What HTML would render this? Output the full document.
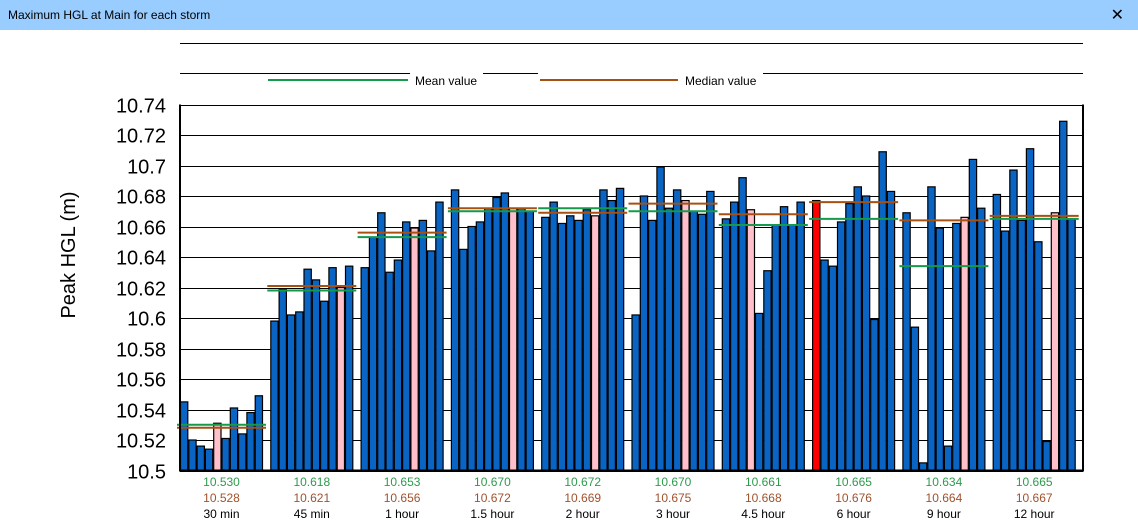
<!DOCTYPE html>
<html><head><meta charset="utf-8"><style>
body{margin:0;width:1138px;height:527px;background:#fff;overflow:hidden;font-family:"Liberation Sans",sans-serif}
#tb{position:absolute;left:0;top:0;width:1138px;height:30px;background:#99ccff}
#tb span{position:absolute;left:8px;top:8px;font-size:12px;color:#000}
#tb b{position:absolute;right:14px;top:5px;font-weight:normal;font-size:16px}
</style></head><body>
<div id="tb"><span>Maximum HGL at Main for each storm</span><b>✕</b></div>
<svg id="c" width="1138" height="527" style="position:absolute;left:0;top:0"></svg>
<script>
const categories=["30 min","45 min","1 hour","1.5 hour","2 hour","3 hour","4.5 hour","6 hour","9 hour","12 hour"];
const means=[10.530,10.618,10.653,10.670,10.672,10.670,10.661,10.665,10.634,10.665];
const medians=[10.528,10.621,10.656,10.672,10.669,10.675,10.668,10.676,10.664,10.667];
const values=[
[10.545,10.520,10.516,10.514,10.531,10.521,10.541,10.524,10.538,10.549],
[10.598,10.619,10.602,10.604,10.632,10.625,10.611,10.633,10.620,10.634],
[10.633,10.653,10.669,10.630,10.638,10.663,10.659,10.664,10.644,10.676],
[10.684,10.645,10.660,10.663,10.672,10.679,10.682,10.672,10.672,10.670],
[10.666,10.676,10.662,10.667,10.664,10.671,10.667,10.684,10.677,10.685],
[10.602,10.680,10.664,10.699,10.672,10.684,10.677,10.670,10.668,10.683],
[10.665,10.676,10.692,10.671,10.603,10.631,10.661,10.673,10.661,10.676],
[10.677,10.638,10.634,10.663,10.675,10.686,10.680,10.599,10.709,10.683],
[10.669,10.594,10.505,10.686,10.659,10.516,10.662,10.666,10.704,10.672],
[10.681,10.657,10.697,10.664,10.711,10.650,10.519,10.669,10.729,10.665]];
const highlight=[4,8,6,7,6,6,3,-1,7,7];
const redBar=[-1,-1,-1,-1,-1,-1,-1,0,-1,-1];
const yTicks=["10.5","10.52","10.54","10.56","10.58","10.6","10.62","10.64","10.66","10.68","10.7","10.72","10.74"];
const NS="http://www.w3.org/2000/svg",svg=document.getElementById('c');
const X0=180,X1=1083,Y0=470.5,YMIN=10.5,YMAX=10.74,YTOP=104.5;
const y=v=>Y0-(v-YMIN)/(YMAX-YMIN)*(Y0-YTOP);
const pitch=(X1-X0)/categories.length,gw=83;
function el(t,a,p){const e=document.createElementNS(NS,t);for(const k in a)e.setAttribute(k,a[k]);(p||svg).appendChild(e);return e}
// top lines + legend
let l=el('line',{x1:X0,x2:X1,y1:43.5,y2:43.5,stroke:'#000'});


l=el('path',{d:'M180 73.5H410M483 73.5H538M763 73.5H1083',stroke:'#000',fill:'none'});


let g=el('g',{});


el('line',{x1:268,x2:408,y1:80,y2:80,stroke:'#149a4a','stroke-width':2},g);
let t=el('text',{x:415,y:85,'font-size':12},g);t.textContent='Mean value';
g=el('g',{});


el('line',{x1:540,x2:678,y1:80,y2:80,stroke:'#a85012','stroke-width':2},g);
t=el('text',{x:685,y:85,'font-size':12},g);t.textContent='Median value';
// grid + ticks
yTicks.forEach(s=>{const v=parseFloat(s),yy=Math.round(y(v))+0.5;
 const gl=el('line',{x1:X0,x2:X1,y1:yy,y2:yy,stroke:'#000','stroke-width':1});
 
 
 const tx=el('text',{x:166,y:yy+7,'font-size':20,'text-anchor':'end'});tx.textContent=s;
 
 });
const yt=el('text',{x:0,y:0,'font-size':20,'text-anchor':'middle',transform:'translate(75,255) rotate(-90)'});yt.textContent='Peak HGL (m)';


// bars
categories.forEach((c,i)=>{const gx=X0+i*pitch,bw=gw/values[i].length;
 values[i].forEach((v,j)=>{const top=y(v);
  const fill=j===redBar[i]?'#ff0000':(j===highlight[i]?'#ffc0cb':'#0a64c4');
  const r=el('rect',{x:gx+j*bw+0.5,y:top,width:bw-1,height:Y0-top,fill:fill,stroke:'#000','stroke-width':1.2});
  
  });
 const ml=el('line',{x1:gx-3,x2:gx+gw+3,y1:y(means[i]),y2:y(means[i]),stroke:'#149a4a','stroke-width':2});
 
 
 const dl=el('line',{x1:gx-3,x2:gx+gw+3,y1:y(medians[i]),y2:y(medians[i]),stroke:'#a85012','stroke-width':2});
 
 
 const cx=gx+gw/2;
 let a=el('text',{x:cx,y:486,'font-size':12,'text-anchor':'middle',fill:'#2e9a4e'});a.textContent=means[i].toFixed(3);
 
 
 a=el('text',{x:cx,y:502,'font-size':12,'text-anchor':'middle',fill:'#a0522d'});a.textContent=medians[i].toFixed(3);
 
 
 a=el('text',{x:cx,y:518,'font-size':12,'text-anchor':'middle'});a.textContent=c;
 
 });
l=el('path',{d:`M${X0} ${YTOP}V${Y0}H${X1}V${YTOP}`,stroke:'#000','stroke-width':2,fill:'none'});


</script>
</body></html>
